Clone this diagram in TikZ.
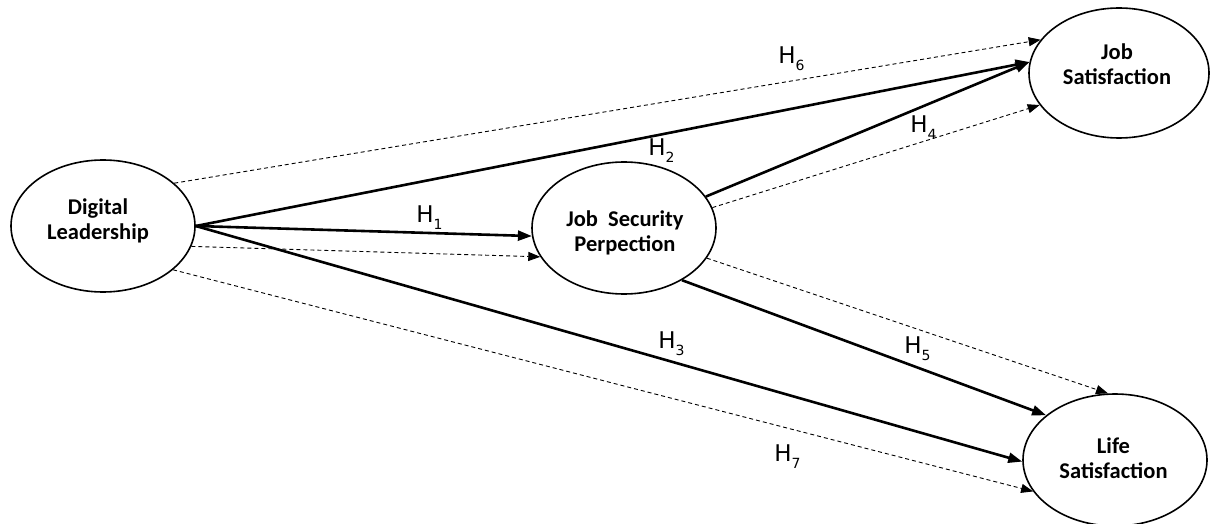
\documentclass[tikz,border=0pt]{standalone}
\usepackage{fontspec}
\setmainfont{Carlito}
\newfontfamily\hfont{DejaVu Sans}
\usetikzlibrary{arrows.meta,shapes.geometric}
\tikzset{
  ell/.style={draw=black, line width=1.6pt, ellipse, inner sep=0pt, minimum width=184pt, minimum height=132pt},
  ctext/.style={align=center, inner sep=0pt, font=\fontsize{22.5}{24.5}\selectfont\bfseries},
  hyp/.style={anchor=base, inner sep=0pt, font=\fontsize{23}{23}\hfont},
  solidarr/.style={line width=2.6pt, -{Triangle[length=14pt, width=10pt]}},
  dasharr/.style={line width=0.9pt, dash pattern=on 4pt off 3pt, -{Triangle[length=12pt, width=9pt]}}
}
\newcommand{\hyplab}[1]{H\rlap{\raisebox{-7pt}{\fontsize{14}{14}\selectfont #1}}}
\begin{document}
\begin{tikzpicture}[x=1pt, y=-1pt]
  \useasboundingbox (0,0) rectangle (1210,524);
  % ellipses
  \node[ell] (dl)  at (103,226) {};
  \node[ell] (jsp) at (624,228) {};
  \node[ell, minimum width=180pt, minimum height=130pt] (js)  at (1119,73) {};
  \node[ell] (ls)  at (1115,460) {};
  % texts
  \node[ctext] (dlt)  at (98,221)   {Digital\\Leadership};
  \node[ctext] (jspt) at (625,233)  {Job\ \ Security\\Perpection};
  \node[ctext] (jst)  at (1117,64)  {Job\\Satisfaction};
  \node[ctext] (lst)  at (1113.5,458) {Life\\Satisfaction};
  % solid paths
  \draw[solidarr] (dl.east) -- (jsp.185);
  \draw[solidarr] (dl.east) -- (js.173.4);
  \draw[solidarr] (dl.east) -- (ls.181);
  \draw[solidarr] (jsp.21.3) -- (js.173.4);
  \draw[solidarr] (jsp.-42) -- (ls.147.3);
  % dashed paths
  \draw[dasharr] (dl.-13.6) -- (jsp.199);
  \draw[dasharr] (dl.31.4) -- (js.157.3);
  \draw[dasharr] (dl.-32.6) -- (ls.201);
  \draw[dasharr] (jsp.13) -- (js.202);
  \draw[dasharr] (jsp.-20.7) -- (ls.96);
  % labels
  \node[hyp] (h1) at (425,222) {\hyplab{1}};
  \node[hyp] (h2) at (657,156) {\hyplab{2}};
  \node[hyp] (h3) at (667,348) {\hyplab{3}};
  \node[hyp] (h4) at (919,133) {\hyplab{4}};
  \node[hyp] (h5) at (913,353) {\hyplab{5}};
  \node[hyp] (h6) at (787,64)  {\hyplab{6}};
  \node[hyp] (h7) at (783,461) {\hyplab{7}};
\end{tikzpicture}
\end{document}
